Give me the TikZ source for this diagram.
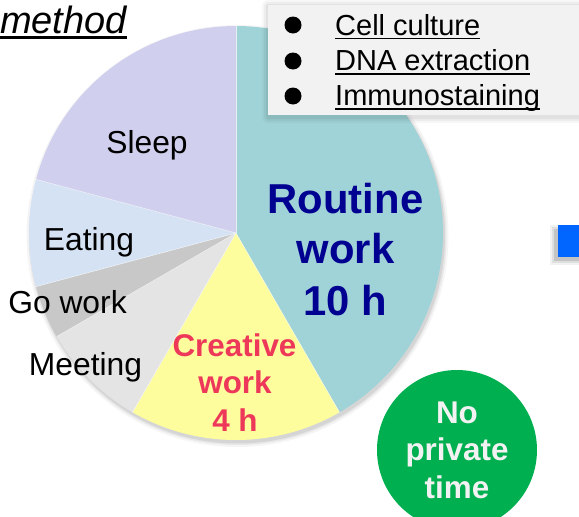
\documentclass[tikz,border=0pt]{standalone}
\usepackage{fontspec}
\setmainfont{Liberation Sans}
\definecolor{sleepc}{RGB}{208,208,238}
\definecolor{eatc}{RGB}{212,226,244}
\definecolor{goc}{RGB}{200,200,200}
\definecolor{meetc}{RGB}{228,228,228}
\definecolor{creac}{RGB}{253,253,157}
\definecolor{routc}{RGB}{159,211,215}
\definecolor{legc}{RGB}{242,242,242}
\definecolor{greenc}{RGB}{0,176,80}
\definecolor{bluec}{RGB}{0,102,255}
\definecolor{navyc}{RGB}{0,0,145}
\definecolor{pinkc}{RGB}{238,56,90}
\definecolor{nptext}{RGB}{242,242,242}
\begin{document}
\begin{tikzpicture}[x=1pt,y=1pt,
  lbl/.style={font=\fontsize{31.8}{37}\selectfont, anchor=base, inner sep=0pt, text=black},
  routl/.style={font=\fontsize{41.8}{50}\selectfont\bfseries, anchor=base, inner sep=0pt, text=navyc},
  creal/.style={font=\fontsize{31.4}{37}\selectfont\bfseries, anchor=base, inner sep=0pt, text=pinkc},
  npl/.style={font=\fontsize{31.4}{37}\selectfont\bfseries, anchor=base, inner sep=0pt, text=nptext},
  legl/.style={font=\fontsize{29}{34}\selectfont, anchor=base west, inner sep=0pt},
  bullet/.style={circle, fill=black, inner sep=0pt, minimum size=17pt},
  uline/.style={line width=1.8pt}]
\useasboundingbox (0,0) rectangle (579,-517);
\clip (0,0) rectangle (579,-517);
\coordinate (c) at (236,-233);
% pie shadow
\foreach \r/\op in {211/0.04,209/0.06,207.5/0.08}
  \fill[black,opacity=\op] ([xshift=1.5,yshift=-3]c) circle (\r);
% slices
\fill[routc] (c) -- ++(90:207) arc[start angle=90,end angle=-60,radius=207] -- cycle;
\fill[creac] (c) -- ++(-60:207) arc[start angle=-60,end angle=-120,radius=207] -- cycle;
\fill[meetc] (c) -- ++(-120:207) arc[start angle=-120,end angle=-150,radius=207] -- cycle;
\fill[goc] (c) -- ++(-150:207) arc[start angle=-150,end angle=-165,radius=207] -- cycle;
\fill[eatc] (c) -- ++(-165:207) arc[start angle=-165,end angle=-195,radius=207] -- cycle;
\fill[sleepc] (c) -- ++(165:207) arc[start angle=165,end angle=90,radius=207] -- cycle;
\foreach \a in {90,-60,-120,-150,-165,165}
  \draw[white,line width=0.5pt,opacity=0.7] (c) -- ++(\a:207);
% slice labels
\node[lbl] (sleep) at (147,-153) {Sleep};
\node[lbl] (eat) at (89,-250) {Eating};
\node[lbl] (go) at (67.5,-313) {Go work};
\node[lbl] (meet) at (85.5,-375) {Meeting};
\node[routl] (r1) at (345.5,-213) {Routine};
\node[routl] (r2) at (345.5,-263) {work};
\node[routl] (r3) at (345.5,-315) {10 h};
\node[creal] (c1) at (234.5,-356) {Creative};
\node[creal] (c2) at (235,-393) {work};
\node[creal] (c3) at (235,-431) {4 h};
% legend box with soft shadow
\foreach \e/\op in {6/0.03,4/0.04,2/0.05}
  \fill[black,opacity=\op,rounded corners=\e] (268-\e,-5+\e-1) rectangle (590,-115-\e-2);
\fill[legc] (268,-5) rectangle (590,-115);
\node[bullet] (b1) at (293,-25) {};
\node[bullet] (b2) at (293,-61) {};
\node[bullet] (b3) at (293,-96) {};
\node[legl] (l1) at (335,-35) {Cell culture};
\node[legl] (l2) at (335,-70.5) {DNA extraction};
\node[legl] (l3) at (335,-105.5) {Immunostaining};
\foreach \n in {l1,l2,l3}
  \draw[uline] ([yshift=-3.5]\n.base west) -- ([yshift=-3.5]\n.base east);
% title fragment
\node[font=\fontsize{38}{42}\selectfont\itshape, anchor=base east, inner sep=0pt] (meth) at (127,-33) {method};
\draw[line width=2.2pt] ([yshift=-4.5]meth.base west) -- ([yshift=-4.5]meth.base east);
% no private time
\node[circle, fill=greenc, inner sep=0pt, minimum size=160pt] (np) at (457,-450) {};
\node[npl] (n1) at (457,-423) {No};
\node[npl] (n2) at (457,-460) {private};
\node[npl] (n3) at (457,-498) {time};
% blue block
\foreach \e/\op in {4/0.05,2/0.08,0/0.12}
  \fill[black,opacity=\op] (554-\e,-229+\e) rectangle (590,-261-\e);
\fill[bluec] (558,-225) rectangle (590,-257);
\end{tikzpicture}
\end{document}
